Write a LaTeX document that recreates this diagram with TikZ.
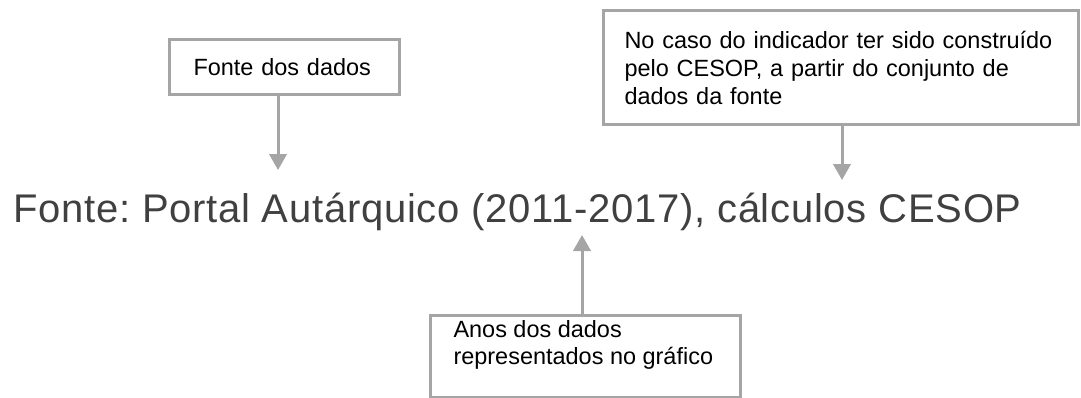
\documentclass[tikz,border=0pt]{standalone}
\usepackage{fontspec}
\setmainfont{Liberation Sans}
\newfontfamily\titulofont[LetterSpace=1.8]{Liberation Sans}
\usetikzlibrary{arrows.meta}
\definecolor{cinza}{HTML}{A5A5A5}
\definecolor{escuro}{HTML}{404040}
\frenchspacing

\begin{document}
\begin{tikzpicture}[x=0.75pt,y=-0.75pt,
  caixa/.style={draw=cinza,line width=2.25pt,align=left,anchor=north west,
    font=\fontsize{17.6pt}{21pt}\selectfont},
  seta/.style={cinza,line width=2.25pt,-{Triangle[width=13pt,length=12pt]}}]
  \useasboundingbox (0,0) rectangle (1081,397);
  \node[anchor=base west,inner sep=0pt,text=escuro,
    font=\titulofont\fontsize{30pt}{36pt}\selectfont] (t) at (13,222)
    {Fonte: Portal Autárquico (2011-2017), cálculos CESOP};
  \node[caixa,inner xsep=18pt,text width=136.5pt,minimum height=41.25pt] (a) at (168,38)
    {Fonte dos dados};
  \node[caixa,inner xsep=15.75pt,text width=324.75pt,minimum height=85.5pt] (b) at (602,9)
    {No caso do indicador ter sido construído\\pelo CESOP, a partir do conjunto de\\dados da fonte};
  \node[caixa,inner xsep=17.25pt,inner ysep=3.75pt] (c) at (429,314)
    {\parbox[c][54pt][t]{198pt}{\raggedright\baselineskip=20.5pt Anos dos dados\\representados no gráfico}};
  \coordinate (p1) at (278,170);
  \coordinate (p2) at (842,180);
  \coordinate (p3) at (582,235);
  \draw[seta] (a.south -| p1) -- (p1);
  \draw[seta] (b.south -| p2) -- (p2);
  \draw[seta] (c.north -| p3) -- (p3);
\end{tikzpicture}
\end{document}
